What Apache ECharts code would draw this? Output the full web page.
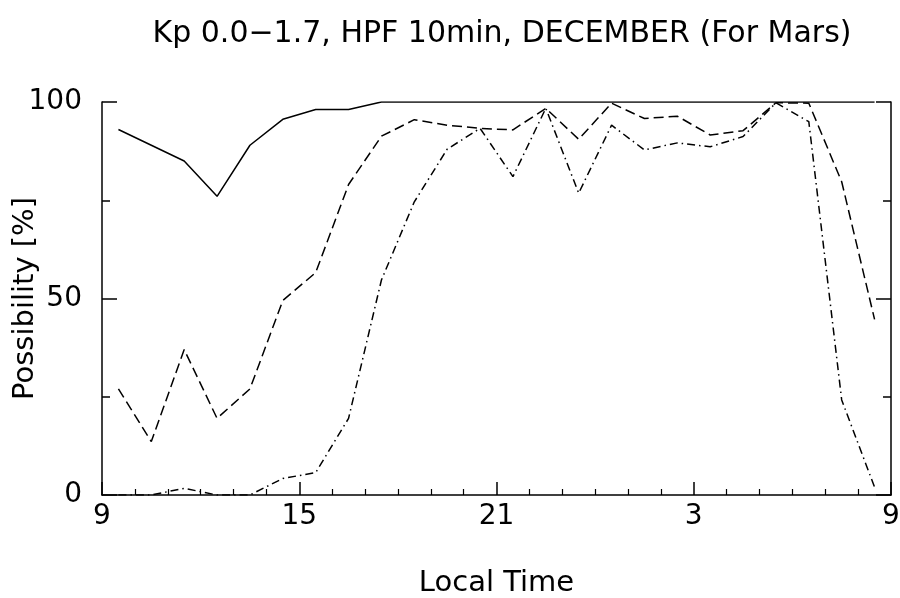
<!DOCTYPE html>
<html>
<head>
<meta charset="utf-8">
<script src="https://cdn.jsdelivr.net/npm/echarts@6/dist/echarts.min.js"></script>
<style>html,body{margin:0;padding:0;background:#fff;}#c{width:900px;height:598px;}</style>
</head>
<body>
<div id="c"></div>
<script>
const hours = [9.5,10.5,11.5,12.5,13.5,14.5,15.5,16.5,17.5,18.5,19.5,20.5,21.5,22.5,23.5,24.5,25.5,26.5,27.5,28.5,29.5,30.5,31.5,32.5];
const solidVals = [93,89,85,76,89,95.6,98.1,98.1,100,100,100,100,100,100,100,100,100,100,100,100,100,100,100,100];
const dashedVals = [27,13.6,37,19.5,27,49.5,56.6,79,91.3,95.5,94.1,93.3,92.9,98.4,90.5,99.7,95.8,96.4,91.6,92.7,99.8,99.7,79.7,44.7];
const dashDotVals = [0,0,1.7,0,0,4.2,5.7,19.5,54.7,74.6,88,93.3,81,98.4,76.8,94.1,87.8,89.6,88.6,91.2,99.8,95,24.2,2];
const xTicks = [9,15,21,3,9];
const titleText = 'Kp 0.0\u22121.7, HPF 10min, DECEMBER (For Mars)';

const font = 'DejaVu Sans';
const pair = (xs, ys) => xs.map((x, i) => [x, ys[i]]);
const lineStyleBase = {color: '#000', width: 1.5};

const chart = echarts.init(document.getElementById('c'), null, {renderer: 'canvas'});
chart.setOption({
  animation: false,
  backgroundColor: '#fff',
  title: {
    text: titleText,
    left: 497,
    textAlign: 'center',
    top: 14,
    textStyle: {fontFamily: font, fontSize: 30, fontWeight: 'normal', color: '#000'}
  },
  grid: {left: 102, right: 9, top: 102, bottom: 103, containLabel: false, outerBoundsMode: 'none'},
  xAxis: {
    type: 'value', min: 9, max: 33, interval: 6,
    name: 'Local Time', nameLocation: 'middle', nameGap: 74, nameMoveOverlap: false,
    nameTextStyle: {fontFamily: font, fontSize: 29, color: '#000'},
    axisLine: {show: true, lineStyle: {color: '#000', width: 1.5}},
    axisTick: {show: true, inside: true, length: 13, lineStyle: {color: '#000', width: 1.5}},
    minorTick: {show: true, splitNumber: 6, length: 6, lineStyle: {color: '#000', width: 1.2}},
    axisLabel: {
      margin: 8, fontFamily: font, fontSize: 28, color: '#000',
      formatter: v => String(xTicks[Math.round((v - 9) / 6)])
    },
    splitLine: {show: false}
  },
  yAxis: [{
    type: 'value', min: 0, max: 100, interval: 50, position: 'left',
    name: 'Possibility [%]', nameLocation: 'middle', nameGap: 62, nameRotate: 90, nameMoveOverlap: false,
    nameTextStyle: {fontFamily: font, fontSize: 29, color: '#000'},
    axisLine: {show: true, lineStyle: {color: '#000', width: 1.5}},
    axisTick: {show: true, inside: true, length: 15, lineStyle: {color: '#000', width: 1.5}},
    minorTick: {show: true, splitNumber: 2, length: 8, lineStyle: {color: '#000', width: 1.5}},
    axisLabel: {margin: 20, fontFamily: font, fontSize: 28, color: '#000'},
    splitLine: {show: false}
  }, {
    type: 'value', min: 0, max: 100, interval: 50, position: 'right',
    axisLine: {show: true, lineStyle: {color: '#000', width: 1.5}},
    axisTick: {show: true, inside: true, length: 15, lineStyle: {color: '#000', width: 1.5}},
    minorTick: {show: true, splitNumber: 2, length: 8, lineStyle: {color: '#000', width: 1.5}},
    axisLabel: {show: false},
    splitLine: {show: false}
  }],
  series: [
    {type: 'line', name: 'solid', data: pair(hours, solidVals), showSymbol: false, symbol: 'none',
     lineStyle: Object.assign({}, lineStyleBase, {type: 'solid'}), z: 3},
    {type: 'line', name: 'dashed', data: pair(hours, dashedVals), showSymbol: false, symbol: 'none',
     lineStyle: Object.assign({}, lineStyleBase, {type: [10, 5]}), z: 3},
    {type: 'line', name: 'dashdot', data: pair(hours, dashDotVals), showSymbol: false, symbol: 'none',
     lineStyle: Object.assign({}, lineStyleBase, {type: [8, 4, 1.5, 4]}), z: 3}
  ]
});
</script>
</body>
</html>
